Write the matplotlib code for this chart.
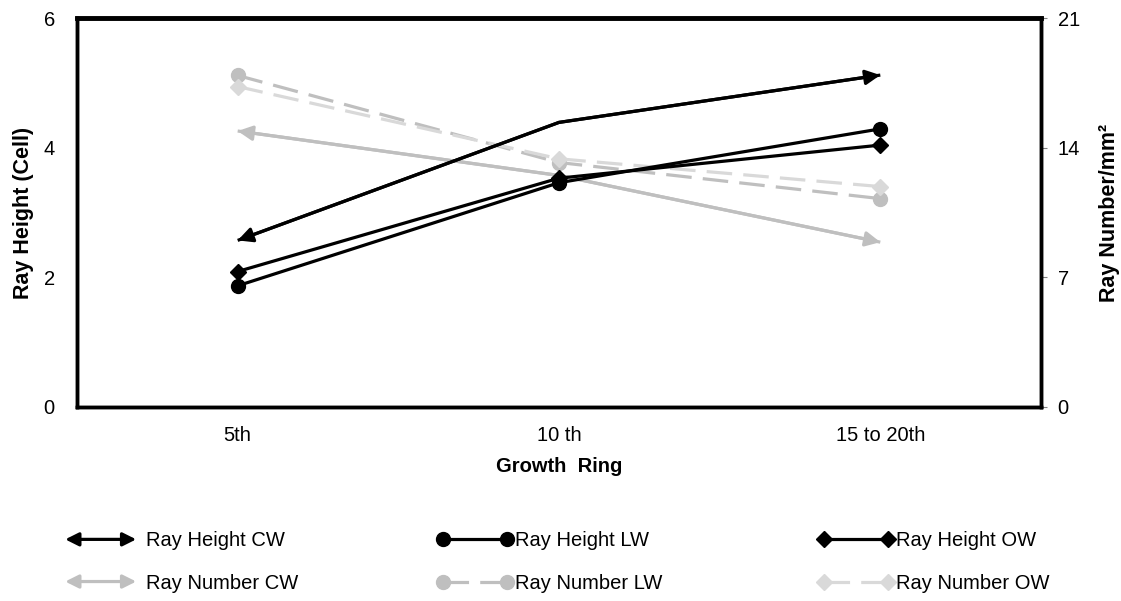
import matplotlib
matplotlib.use("Agg")
import matplotlib.pyplot as plt
from matplotlib.lines import Line2D
from matplotlib.patches import FancyArrowPatch
from matplotlib.legend_handler import HandlerBase

plt.rcParams['font.family'] = ['Liberation Sans', 'DejaVu Sans']

# ---- data ----
rings = ["5th", "10 th", "15 to 20th"]
height_cw = [2.57, 4.39, 5.12]
height_lw = [1.87, 3.46, 4.29]
height_ow = [2.09, 3.53, 4.04]
number_cw = [14.9, 12.5, 8.9]
number_lw = [17.9, 13.2, 11.25]
number_ow = [17.3, 13.4, 11.9]

black = "#000000"
gray = "#bfbfbf"
light = "#d9d9d9"
lw = 2.3
dash = (0, (8, 3.5))
fs = 14.5
x = list(range(len(rings)))


class ArrowHandler(HandlerBase):
    def create_artists(self, legend, orig_handle, xdescent, ydescent,
                       width, height, fontsize, trans):
        y = height / 2 - ydescent
        a = FancyArrowPatch((-xdescent - 2, y), (width - xdescent - 6, y),
                            arrowstyle='<|-|>', mutation_scale=20,
                            color=orig_handle.get_color(), lw=lw,
                            shrinkA=0, shrinkB=0, transform=trans)
        return [a]


def arrow_series(ax, vals, color):
    ax.plot(x, vals, color=color, lw=lw, solid_capstyle='butt')
    for a, b in [(1, 0), (1, 2)]:
        ax.annotate('', xy=(x[b], vals[b]), xytext=(x[a], vals[a]),
                    arrowprops=dict(arrowstyle='-|>', color=color, lw=lw,
                                    mutation_scale=22, shrinkA=0, shrinkB=0))


fig = plt.figure(figsize=(11.21, 6.01), dpi=100)
ax = fig.add_axes([0.0687, 0.3228, 0.8599, 0.6472])
ax2 = ax.twinx()

# ray number on the right axis, drawn underneath
arrow_series(ax2, number_cw, gray)
ax2.plot(x, number_lw, color=gray, lw=lw, ls=dash, marker='o', ms=10)
ax2.plot(x, number_ow, color=light, lw=lw, ls=dash, marker='D', ms=8)

# ray height on the left axis
ax.set_zorder(ax2.get_zorder() + 1)
ax.patch.set_visible(False)
arrow_series(ax, height_cw, black)
ax.plot(x, height_lw, color=black, lw=lw, marker='o', ms=10)
ax.plot(x, height_ow, color=black, lw=lw, marker='D', ms=8)

ax.set_xlim(-0.5, 2.5)
ax.set_ylim(0, 6)
ax.set_yticks([0, 2, 4, 6])
ax2.set_ylim(0, 21)
ax2.set_yticks([0, 7, 14, 21])
ax.set_xticks(x)
ax.set_xticklabels(rings)

ax.tick_params(axis='x', length=0, pad=14, labelsize=fs)
ax.tick_params(axis='y', length=0, pad=16, labelsize=fs)
ax2.tick_params(axis='y', length=4, color='#808080', pad=8, labelsize=fs)

for a in (ax, ax2):
    for s in a.spines.values():
        s.set_linewidth(2.5)
        s.set_color(black)
ax.spines['top'].set_linewidth(3.5)

ax.set_ylabel("Ray Height (Cell)", fontsize=15.5, fontweight='bold', labelpad=7)
ax2.set_ylabel("Ray Number/mm²", fontsize=15.5, fontweight='bold', labelpad=14)
ax.set_xlabel("Growth  Ring", fontsize=fs, fontweight='bold', labelpad=8)

# legend: three columns, two rows
cols = [
    ([Line2D([], [], color=black, lw=lw), Line2D([], [], color=gray, lw=lw)],
     ["Ray Height CW", "Ray Number CW"], 68),
    ([Line2D([], [], color=black, lw=lw, marker='o', ms=10),
      Line2D([], [], color=gray, lw=lw, ls=dash, marker='o', ms=10)],
     ["Ray Height LW", "Ray Number LW"], 437),
    ([Line2D([], [], color=black, lw=lw, marker='D', ms=8),
      Line2D([], [], color=light, lw=lw, ls=dash, marker='D', ms=8)],
     ["Ray Height OW", "Ray Number OW"], 818),
]
for i, (hs, labs, px) in enumerate(cols):
    hmap = {h: ArrowHandler() for h in hs} if i == 0 else {}
    fig.legend(hs, labs, loc='center left',
               bbox_to_anchor=(px / 1121, 1 - 562 / 601),
               frameon=False, fontsize=fs, handlelength=3.8,
               handletextpad=0.05, labelspacing=1.15, borderaxespad=0,
               borderpad=0, numpoints=2, handler_map=hmap)

fig.savefig("out.png", dpi=100)
